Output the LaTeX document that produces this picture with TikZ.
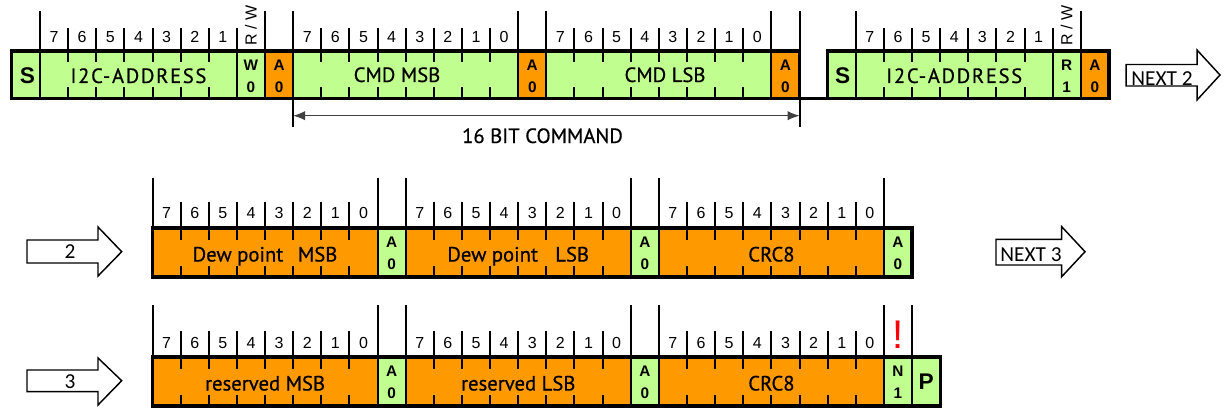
\documentclass[tikz,border=0pt]{standalone}
\usepackage{fontspec}
\setmainfont{Liberation Sans}
\newfontfamily\dinfont[FakeBold=0.6]{PT Sans}
\newfontfamily\dinwide[FakeBold=0.6,LetterSpace=8]{PT Sans}
\newfontfamily\calfont{Carlito}
\usetikzlibrary{arrows.meta}
\definecolor{cgreen}{RGB}{192,255,143}
\definecolor{corange}{RGB}{255,153,0}
\pgfmathdeclarefunction{gx}{1}{\pgfmathparse{40+(#1)*28.13}}
\begin{document}
\begin{tikzpicture}[x=0.75pt,y=-0.75pt,
  bitnum/.style={font=\fontsize{12}{13}\selectfont, inner sep=0},
  lbl/.style={font=\dinfont\fontsize{15.5}{16}\selectfont, inner sep=0, anchor=base},
  addr/.style={font=\dinwide\fontsize{15.5}{16}\selectfont, inner sep=0, anchor=base},
  flag/.style={font=\bfseries\fontsize{11.5}{16.5}\selectfont, inner sep=0, align=center},
  big/.style={font=\bfseries\fontsize{17}{17}\selectfont, inner sep=0},
  divider/.style={line width=1.5pt},
  frame/.style={line width=2.4pt},
  nextarrow/.style={draw, fill=white, line width=1.1pt, line join=miter},
  arrowtxt/.style={font=\calfont\fontsize{16}{16}\selectfont, inner sep=0, anchor=base},
]
\useasboundingbox (0,0) rectangle (1227,410);

% ================= ROW 1 =================
\fill[cgreen] ({gx(-1)},51) rectangle ({gx(27)},98.5);
\fill[cgreen] ({gx(28)},51) rectangle ({gx(38)},98.5);
\foreach \i in {8,17,26,37} \fill[corange] ({gx(\i)},51) rectangle ({gx(\i+1)},98.5);
\foreach \i in {0,7,8,9,17,18,26,29,36,37} \draw[divider] ({gx(\i)},51) -- ({gx(\i)},98.5);
\foreach \i in {0,8,9,17,18,26,27,29,37} \draw[divider] ({gx(\i)},11) -- ({gx(\i)},51);
\foreach \i in {9,27} \draw[divider] ({gx(\i)},98.5) -- ({gx(\i)},127);
\foreach \i in {1,2,3,4,5,6,7,10,11,12,13,14,15,16,19,20,21,22,23,24,25,30,31,32,33,34,35,36}
  \draw[divider] ({gx(\i)},28) -- ({gx(\i)},51);
\foreach \i in {1,2,3,4,5,6,10,11,12,13,14,15,16,19,20,21,22,23,24,25,30,31,32,33,34,35}
  {\draw[divider] ({gx(\i)},51) -- ({gx(\i)},62);
   \draw[divider] ({gx(\i)},87.5) -- ({gx(\i)},98.5);}
\draw[frame] ({gx(-1)},51) rectangle ({gx(27)},98.5);
\draw[frame] ({gx(27)},98.5) -- ({gx(28)},98.5);
\draw[frame] ({gx(28)},51) rectangle ({gx(38)},98.5);

\foreach \s/\n/\r in {0/7/a,9/8/b,18/8/c,29/7/d}
  \foreach \k in {1,...,\n} {
    \pgfmathtruncatemacro\d{8-\k}
    \node[bitnum] (num-\r-\k) at ({gx(\s+\k-0.5)},37) {\d};
  }
\node[bitnum, rotate=90] (rw1) at ({gx(7.5)},25.5) {R / W};
\node[bitnum, rotate=90] (rw2) at ({gx(36.5)},25.5) {R / W};

\node[big] (s1) at ({gx(-0.5)+1.5},75.5) {S};
\node[addr] (addr1) at ({gx(3.5)},83) {I2C-ADDRESS};
\node[flag] (w1) at ({gx(7.5)},76) {W\\0};
\node[flag] (a1) at ({gx(8.5)},76) {A\\0};
\node[lbl] (cmdm) at (397,82) {CMD MSB};
\node[flag] (a2) at ({gx(17.5)},76) {A\\0};
\node[lbl] (cmdl) at (665,82) {CMD LSB};
\node[flag] (a3) at ({gx(26.5)},76) {A\\0};
\node[big] (s2) at ({gx(28.5)+1},75.5) {S};
\node[addr] (addr2) at ({gx(32.5)},83) {I2C-ADDRESS};
\node[flag] (r2) at ({gx(36.5)},76) {R\\1};
\node[flag] (a4) at ({gx(37.5)},76) {A\\0};

\coordinate (cmdL) at ({gx(9)},115.7);
\coordinate (cmdR) at ({gx(27)},115.7);
\draw[line width=0.75pt, black!75, {Latex[length=9pt,width=7pt]}-{Latex[length=9pt,width=7pt]}] (cmdL) -- (cmdR);
\node[lbl] (bitcmd) at (542.5,143) {16 BIT COMMAND};

\draw[nextarrow] (1126,64.5) -- (1197,64.5) -- (1197,50) -- (1220,75) -- (1197,100) -- (1197,86) -- (1126,86) -- cycle;
\node[arrowtxt] (next2) at (1162,85) {NEXT 2};

% ================= ROW 2 =================
\fill[corange] ({gx(4)},228) rectangle ({gx(31)},277);
\foreach \i in {12,21,30} \fill[cgreen] ({gx(\i)},228) rectangle ({gx(\i+1)},277);
\foreach \i in {12,13,21,22,30} \draw[divider] ({gx(\i)},228) -- ({gx(\i)},277);
\foreach \i in {4,12,13,21,22,30} \draw[divider] ({gx(\i)},178) -- ({gx(\i)},228);
\foreach \i in {5,6,7,8,9,10,11,14,15,16,17,18,19,20,23,24,25,26,27,28,29}
  {\draw[divider] ({gx(\i)},202) -- ({gx(\i)},228);
   \draw[divider] ({gx(\i)},228) -- ({gx(\i)},240);
   \draw[divider] ({gx(\i)},266) -- ({gx(\i)},277);}
\draw[frame] ({gx(4)},228) rectangle ({gx(31)},277);
\foreach \s/\r in {4/e,13/f,22/g}
  \foreach \k in {1,...,8} {
    \pgfmathtruncatemacro\d{8-\k}
    \node[bitnum] (num-\r-\k) at ({gx(\s+\k-0.5)},213) {\d};
  }
\node[lbl] (dewm) at ({gx(8)},261.5) {Dew point\hspace{11pt}MSB};
\node[flag] (a5) at ({gx(12.5)},253.5) {A\\0};
\node[lbl] (dewl) at ({gx(17)},261.5) {Dew point\hspace{13pt}LSB};
\node[flag] (a6) at ({gx(21.5)},253.5) {A\\0};
\node[lbl] (crc1) at ({gx(26)},261.5) {CRC8};
\node[flag] (a7) at ({gx(30.5)},253.5) {A\\0};

\draw[nextarrow] (27,240) -- (98,240) -- (98,227) -- (121.7,251.7) -- (98,276) -- (98,263) -- (27,263) -- cycle;
\node[arrowtxt] (two) at (70,258) {2};
\draw[nextarrow] (996,239.3) -- (1061.7,239.3) -- (1061.7,226.7) -- (1085,251.7) -- (1061.7,276.7) -- (1061.7,265) -- (996,265) -- cycle;
\node[arrowtxt] (next3) at (1031,261.5) {NEXT 3};

% ================= ROW 3 =================
\fill[corange] ({gx(4)},357) rectangle ({gx(32)},406);
\foreach \i in {12,21,30,31} \fill[cgreen] ({gx(\i)},357) rectangle ({gx(\i+1)},406);
\foreach \i in {12,13,21,22,30,31} \draw[divider] ({gx(\i)},357) -- ({gx(\i)},406);
\foreach \i in {4,12,13,21,22,30,31} \draw[divider] ({gx(\i)},305) -- ({gx(\i)},357);
\foreach \i in {5,6,7,8,9,10,11,14,15,16,17,18,19,20,23,24,25,26,27,28,29}
  {\draw[divider] ({gx(\i)},331) -- ({gx(\i)},357);
   \draw[divider] ({gx(\i)},357) -- ({gx(\i)},369);
   \draw[divider] ({gx(\i)},395) -- ({gx(\i)},406);}
\draw[frame] ({gx(4)},357) rectangle ({gx(32)},406);
\foreach \s/\r in {4/h,13/i,22/j}
  \foreach \k in {1,...,8} {
    \pgfmathtruncatemacro\d{8-\k}
    \node[bitnum] (num-\r-\k) at ({gx(\s+\k-0.5)},343) {\d};
  }
\node[font=\fontsize{30}{30}\selectfont, text=red, inner sep=0, anchor=base] (excl) at ({gx(30.5)},348.5) {!};
\node[lbl] (resm) at ({gx(8)},390.5) {reserved MSB};
\node[flag] (a8) at ({gx(12.5)},382.5) {A\\0};
\node[lbl] (resl) at ({gx(17)},390.5) {reserved LSB};
\node[flag] (a9) at ({gx(21.5)},382.5) {A\\0};
\node[lbl] (crc2) at ({gx(26)},390.5) {CRC8};
\node[flag] (n1) at ({gx(30.5)},382.5) {N\\1};
\node[big] (p1) at ({gx(31.5)},381.5) {P};

\draw[nextarrow] (27,370) -- (98,370) -- (98,358) -- (121.7,380.7) -- (98,405) -- (98,391.7) -- (27,391.7) -- cycle;
\node[arrowtxt] (three) at (70,388) {3};
\end{tikzpicture}
\end{document}
